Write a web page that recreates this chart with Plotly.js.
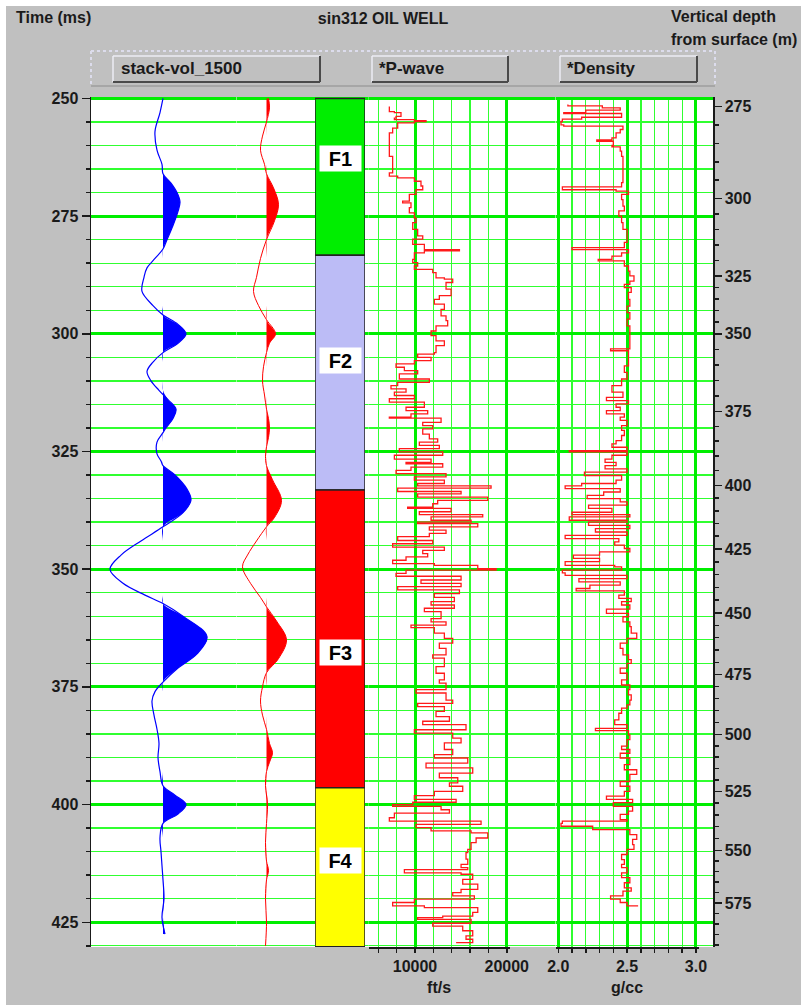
<!DOCTYPE html>
<html><head><meta charset="utf-8">
<script src="https://cdn.plot.ly/plotly-3.0.1.min.js"></script>
<style>html,body{margin:0;padding:0;background:#fff;}#chart{position:absolute;left:6px;top:6px;width:795px;height:999px;}</style>
</head><body><div id="chart"></div><script>
// ---------- DATA ----------
// Seismic trace 1 (blue, stack-vol_1500) : time (ms) and normalized amplitude
const blueTime = [250,253,257,261,264,266,268,270,272,274,277,280,282,284,286,288,291,294,296,298,300,302,304,306,308,310,312,314,316,318,320,321,323,325.5,327,328,330,333,335.3,338,341,344,347,350,353,355.5,357.3,360,364.3,368,371,374,376,378,381,384,387,390,393,396,398,400,402,404,407,410,413,416,420,424,427.5];
const blueAmp = [0,-0.06,-0.16,-0.12,-0.02,0,0.16,0.28,0.34,0.30,0.20,0.08,0,-0.16,-0.32,-0.38,-0.42,-0.20,0,0.30,0.46,0.30,0,-0.20,-0.32,-0.24,-0.08,0.10,0.26,0.20,0.06,0,-0.12,-0.12,-0.04,0,0.24,0.48,0.56,0.40,0,-0.44,-0.84,-1.06,-0.80,-0.36,0,0.40,0.88,0.68,0.30,0,-0.16,-0.22,-0.18,-0.12,-0.08,-0.10,-0.06,0,0.24,0.46,0.30,0,-0.06,-0.04,-0.02,0,0.02,-0.02,0.04];
// Seismic trace 2 (red)
const redTime = [250,252,255,258,261,264,266,269,272.5,276,280,284,288,291,294,297,300,302,304,307,310,313,316,318,320,322,324,326,328,331,335.4,339,341,344,347,349.5,353,356,358,361,365,369,372,375,378,381,384,387,389,391,393,396,400,404,408,412,414,416,420,425,430];
const redAmp = [0.04,0.06,0,-0.08,-0.12,-0.04,0,0.14,0.24,0.16,0,-0.12,-0.20,-0.26,-0.16,0,0.18,0.06,0,-0.06,-0.08,-0.04,0,0.04,0.06,0.04,0,-0.02,0,0.12,0.30,0.16,0,-0.20,-0.38,-0.48,-0.32,-0.12,0,0.20,0.40,0.24,0,-0.08,-0.12,-0.08,0,0.06,0.12,0.06,0,-0.02,0.02,0,-0.02,0,0.04,0,-0.02,0,-0.02];

// Formations
const formNames = ['F1','F2','F3','F4'];
const formTop = [250, 283.3, 333.2, 396.4];
const formBase = [283.3, 333.2, 396.4, 430.2];
const formColors = ['#00ee00','#bcbcf6','#ff0000','#ffff00'];
const formLabelTime = [262.8, 305.7, 367.7, 411.8];

// P-wave velocity log (ft/s) vs time (ms)
const pTime = [251.7,252.8,253.0,253.8,254.2,254.5,254.7,254.9,255.2,256.3,257.3,262.3,263.7,265.8,266.4,266.5,266.9,267.6,268.6,269.4,270.4,271.8,272.2,273.2,274.3,275.4,276.4,277.8,279.2,279.9,281.0,282.1,282.4,282.8,284.2,284.9,285.6,286.3,287.0,288.1,288.4,289.1,290.5,291.9,292.7,293.7,294.8,296.2,297.2,298.3,299.4,300.4,301.5,302.5,304.0,304.3,305.0,305.7,306.4,307.1,307.8,308.5,309.6,310.3,311.0,311.7,312.4,313.1,313.8,314.5,315.6,316.3,317.0,317.7,317.9,318.8,319.5,320.2,321.3,322.3,323.0,323.7,324.4,325.1,325.8,326.6,327.3,327.6,328.3,329.0,329.7,330.4,331.1,331.8,332.3,332.8,333.5,334.0,334.7,335.4,336.1,336.8,337.1,337.8,338.4,338.9,339.6,
340.0,340.3,341.0,341.7,342.4,343.1,343.9,344.6,345.3,346.0,346.7,347.4,348.1,348.8,349.2,349.9,350.2,350.9,351.5,352.3,353.0,353.7,354.4,355.2,356.0,356.9,357.6,358.3,359.0,360.5,361.2,361.9,362.4,363.6,364.7,365.7,366.8,368.2,368.9,370.7,372.1,373.5,374.2,375.6,376.3,377.8,378.5,379.2,380.2,381.3,382.3,383.0,384.1,384.8,385.9,386.9,388.3,389.4,390.1,391.2,392.2,393.3,394.3,395.4,396.1,397.2,398.1,398.9,399.5,400.0,400.4,401.1,401.8,402.8,403.5,404.2,404.9,405.6,406.0,407.1,408.1,409.5,410.2,411.6,412.7,413.4,413.8,414.5,414.8,415.9,416.9,418.0,418.7,419.4,420.1,420.8,421.5,421.9,422.9,423.7,424.0,424.4,425.2,425.8,426.8,427.9,428.6,429.3];
const pVel = [7200,7750,8470,7930,7750,9930,11200,9930,8110,7560,7200,7560,7560,7200,7200,8110,9930,10650,10840,10100,9380,8650,9560,9380,9930,10110,9750,10290,10840,9750,11020,14840,11020,9930,9750,10290,9930,11930,12290,13200,14110,13380,13930,12650,12110,13200,12840,13380,13560,12290,11750,12290,13200,12290,12110,10290,11750,9930,7930,8840,10290,8290,11560,8110,7380,9020,7750,9930,7200,11020,9020,11380,9560,7200,12840,10840,11930,10840,11560,12470,10470,12650,8290,13020,7750,11750,9020,13020,9560,7930,13380,9930,13200,10290,18290,8110,15020,10290,17930,12470,11930,9200,13930,10470,17380,11750,16110,
10290,16840,11560,13380,11560,8110,11930,7560,13200,10840,11380,9020,7560,12110,16840,18840,9020,7930,15020,10650,15020,8110,14840,12110,14290,11750,14290,11020,12840,11750,13380,9560,12110,13200,14110,12650,13380,11930,13200,12290,13200,12650,13380,10110,13380,14110,10290,13200,12290,13750,10840,15560,9930,14110,15020,13200,14110,12110,15750,11200,16290,12650,14660,13750,15200,12110,9930,14480,9750,7560,12840,13750,7750,7200,17200,10110,11750,16110,17930,16660,16110,15750,15560,15750,15020,15750,8840,15020,16290,15200,16840,15020,14110,16470,9930,7560,11020,16840,16290,13020,10290,16110,11930,15200,16290,15560,16290,14480];

// Density log (g/cc) vs time (ms)
const dTime = [251.3,251.6,252.0,252.5,253.0,253.2,253.8,254.0,254.4,254.9,255.6,255.9,256.6,257.3,258.4,258.8,259.1,260.0,260.3,260.9,261.2,262.3,263.7,267.2,267.9,268.8,269.4,269.7,270.4,271.5,272.9,273.9,275.0,276.4,277.8,279.2,280.6,281.7,282.1,282.8,283.5,284.2,284.5,285.6,286.7,287.7,288.8,289.5,290.2,291.2,292.7,294.1,295.5,296.9,298.3,299.7,301.5,303.2,303.6,305.4,306.8,308.2,309.6,311.0,312.4,313.5,314.2,314.9,315.6,316.3,317.0,317.7,318.4,319.5,320.5,321.6,322.7,323.4,324.1,324.8,325.1,325.8,326.6,327.3,328.0,328.7,329.4,330.1,331.1,331.8,332.3,332.9,333.6,334.3,335.0,335.7,336.4,337.1,337.9,338.4,338.9,339.6,
340.0,340.7,341.4,342.1,342.8,343.5,344.2,344.9,345.6,346.3,347.0,347.7,348.4,349.2,349.5,350.2,350.8,351.3,352.0,352.7,353.4,354.1,354.6,355.5,356.2,356.9,357.6,358.5,359.4,360.1,361.2,362.2,363.6,364.7,365.7,366.8,368.2,369.2,370.0,371.0,372.1,373.5,374.6,375.6,376.7,377.8,378.8,379.5,380.6,382.0,383.0,383.8,384.3,385.2,386.2,387.6,388.3,389.1,390.1,391.5,392.6,393.6,395.1,396.1,397.2,398.2,398.9,399.6,400.4,401.4,402.1,403.2,403.5,404.0,404.6,405.3,406.4,407.4,408.5,409.5,410.6,411.7,412.7,413.4,414.5,415.5,416.6,417.7,418.4,419.4,420.1,420.8,421.5];
const dRho = [2.07,2.32,2.45,2.20,2.04,2.46,2.46,2.17,2.03,2.02,2.04,2.47,2.45,2.42,2.39,2.28,2.40,2.39,2.45,2.45,2.46,2.47,2.47,2.47,2.46,2.03,2.42,2.51,2.46,2.47,2.48,2.44,2.46,2.47,2.50,2.50,2.48,2.10,2.51,2.46,2.39,2.29,2.48,2.51,2.52,2.55,2.52,2.48,2.53,2.51,2.52,2.50,2.52,2.50,2.52,2.52,2.52,2.38,2.51,2.51,2.48,2.50,2.46,2.39,2.47,2.35,2.51,2.42,2.45,2.35,2.48,2.45,2.50,2.46,2.48,2.46,2.42,2.39,2.50,2.08,2.50,2.39,2.34,2.42,2.34,2.50,2.19,2.46,2.42,2.17,2.05,2.45,2.33,2.21,2.45,2.50,2.22,2.39,2.10,2.52,2.08,2.50,
2.22,2.52,2.27,2.50,2.05,2.44,2.41,2.48,2.52,2.30,2.11,2.30,2.05,2.41,2.46,2.03,2.05,2.50,2.15,2.45,2.23,2.13,2.48,2.44,2.53,2.46,2.52,2.35,2.51,2.47,2.52,2.53,2.57,2.50,2.45,2.47,2.51,2.53,2.50,2.45,2.50,2.46,2.52,2.51,2.53,2.52,2.50,2.46,2.44,2.41,2.50,2.27,2.51,2.52,2.50,2.46,2.52,2.45,2.52,2.48,2.57,2.52,2.45,2.52,2.48,2.35,2.54,2.40,2.54,2.51,2.45,2.50,2.03,2.02,2.25,2.52,2.57,2.54,2.55,2.50,2.46,2.48,2.46,2.50,2.46,2.52,2.48,2.53,2.47,2.38,2.45,2.50,2.58];

// Depth axis (m) and the two-way time (ms) at which each depth tick falls
const depthLabels = [275,300,325,350,375,400,425,450,475,500,525,550,575];
const depthTimes = [251.7,271.3,287.7,300.0,316.5,332.2,345.7,359.3,372.4,385.1,397.2,409.7,420.9];

// Texts
const chartTitle = 'sin312 OIL WELL';
const timeLabel = 'Time (ms)';
const depthLabel1 = 'Vertical depth';
const depthLabel2 = 'from surface (m)';
const buttonLabels = ['stack-vol_1500','*P-wave','*Density'];
const velUnit = 'ft/s';
const rhoUnit = 'g/cc';

// ---------- LAYOUT HELPERS (pixel -> paper) ----------
const PL = 91, PR = 713, PT = 97, PB = 947;
const px = x => (x - PL) / (PR - PL);
const py = y => (PB - y) / (PB - PT);
const dom = (a, b) => [px(a), px(b)];

const GREEN = '#00ee00', GREEN_T = '#30ff30', INK = '#1a1a1a';
const FONT = 'Liberation Sans, Arial, sans-serif';

// Depth minor ticks (4 between majors)
const depthMinor = [];
for (let i = 0; i < depthTimes.length - 1; i++) {
  for (let k = 1; k < 5; k++) depthMinor.push(depthTimes[i] + k * (depthTimes[i+1] - depthTimes[i]) / 5);
}
{ const n = depthTimes.length, step = (depthTimes[n-1] - depthTimes[n-2]) / 5;
  for (let k = 1; k < 5; k++) { const v = depthTimes[n-1] + k*step; if (v < 430) depthMinor.push(v); } }

const traces = [
  {x: depthTimes.map(() => 0.5), y: depthTimes, xaxis: 'x', yaxis: 'y', mode: 'markers', marker: {opacity: 0}, hoverinfo: 'skip'},
  {x: depthTimes.map(() => 0.5), y: depthTimes, xaxis: 'x', yaxis: 'y2', mode: 'markers', marker: {opacity: 0}, hoverinfo: 'skip'},
  {x: blueAmp.map(a => Math.max(a, 0)), y: blueTime, xaxis: 'x2', yaxis: 'y', mode: 'lines', fill: 'tozerox', fillcolor: '#0000ff', line: {width: 0, shape: 'spline'}},
  {x: blueAmp, y: blueTime, xaxis: 'x2', yaxis: 'y', mode: 'lines', line: {color: '#0000ff', width: 1.2, shape: 'spline'}},
  {x: redAmp.map(a => Math.max(a, 0)), y: redTime, xaxis: 'x3', yaxis: 'y', mode: 'lines', fill: 'tozerox', fillcolor: '#ff0000', line: {width: 0, shape: 'spline'}},
  {x: redAmp, y: redTime, xaxis: 'x3', yaxis: 'y', mode: 'lines', line: {color: '#ff0000', width: 1, shape: 'spline'}},
  {type: 'bar', x: formNames.map(() => 'col'), y: formBase.map((b, i) => b - formTop[i]), base: formTop,
   xaxis: 'x4', yaxis: 'y', marker: {color: formColors, line: {color: '#222', width: 1.5}}, width: 1},
  {x: pVel, y: pTime, xaxis: 'x5', yaxis: 'y', mode: 'lines', line: {color: '#ff1a1a', width: 1.3, shape: 'vh'}},
  {x: dRho, y: dTime, xaxis: 'x6', yaxis: 'y', mode: 'lines', line: {color: '#ff1a1a', width: 1.3, shape: 'vh'}}
];

const tickFont = {family: FONT, size: 16, color: INK, weight: 'bold'};
const headFont = {family: FONT, size: 16, color: INK, weight: 'bold'};
const btnFont = {family: FONT, size: 17, color: INK, weight: 'bold'};
const yRange = [430.25, 249.7];

const hiddenX = (d, r) => ({domain: d, range: r, visible: false, showgrid: false, zeroline: false, anchor: 'y', fixedrange: true});

const logAxis = (d, r, t0, dt, mdt, fmt, title) => ({
  domain: d, range: r, anchor: 'y', side: 'bottom',
  showline: true, linecolor: INK, linewidth: 1.5,
  ticks: 'outside', ticklen: 4, tickwidth: 1.5, tickcolor: INK,
  tickmode: 'linear', tick0: t0, dtick: dt, tickformat: fmt, tickfont: tickFont,
  showgrid: true, gridcolor: GREEN, gridwidth: 3, zeroline: false,
  minor: {tick0: t0, dtick: mdt, ticks: 'outside', ticklen: 4, tickwidth: 1.5, tickcolor: INK,
          showgrid: true, gridcolor: GREEN_T, gridwidth: 1.3},
  title: {text: title, font: tickFont, standoff: 8}
});

// Header shapes: panel + three buttons
const shapes = [];
const line = (x0, y0, x1, y1, color, w, dash) => shapes.push({type: 'line', xref: 'paper', yref: 'paper',
  x0: px(x0), y0: py(y0), x1: px(x1), y1: py(y1), line: {color, width: w, dash: dash || 'solid'}});
// panel
line(91, 51, 715, 51, '#dcdcec', 2, 'dot'); line(91, 51, 91, 87, '#dcdcec', 2, 'dot');
line(715, 51, 715, 87, '#dcdcec', 2, 'dot'); line(91, 86, 715, 86, '#8c8c8c', 1);
const buttons = [[113, 56, 320, 82], [372, 56, 508, 82], [560, 56, 697, 82]];
buttons.forEach(b => {
  line(b[0], b[3], b[0], b[1], '#ececf4', 1.5); line(b[0], b[1], b[2], b[1], '#ececf4', 1.5);
  line(b[0], b[3], b[2], b[3], '#4a4a4a', 2); line(b[2], b[3], b[2], b[1], '#4a4a4a', 2);
});

const annotations = [
  {text: timeLabel, xref: 'paper', yref: 'paper', x: px(14), y: py(18), xanchor: 'left', yanchor: 'middle', showarrow: false, font: headFont},
  {text: depthLabel1, xref: 'paper', yref: 'paper', x: px(669), y: py(17), xanchor: 'left', yanchor: 'middle', showarrow: false, font: headFont},
  {text: depthLabel2, xref: 'paper', yref: 'paper', x: px(669), y: py(40), xanchor: 'left', yanchor: 'middle', showarrow: false, font: headFont}
];
const btnTextX = [119, 377, 565];
buttonLabels.forEach((t, i) => annotations.push({text: t, xref: 'paper', yref: 'paper', x: px(btnTextX[i]), y: py(69),
  xanchor: 'left', yanchor: 'middle', showarrow: false, font: btnFont}));
formNames.forEach((n, i) => annotations.push({text: n, xref: 'x4', yref: 'y', x: 0, y: formLabelTime[i],
  showarrow: false, bgcolor: '#ffffff', borderpad: 0, width: 41, height: 25,
  font: {family: FONT, size: 20, color: '#000', weight: 'bold'}}));

const layout = {
  width: 795, height: 999,
  margin: {l: 85, r: 88, t: 91, b: 58},
  paper_bgcolor: '#c0c0c0', plot_bgcolor: '#ffffff',
  showlegend: false, hovermode: false, bargap: 0,
  font: {family: FONT, size: 16, color: INK, weight: 'bold'},
  title: {text: chartTitle, xref: 'container', yref: 'container', x: (383 - 6) / 795, y: 1 - (18 - 6) / 999,
          xanchor: 'center', yanchor: 'middle', font: headFont},
  xaxis: {domain: [0, 1], range: [0, 1], anchor: 'y', showgrid: false, zeroline: false, showline: false,
          showticklabels: false, ticks: '', fixedrange: true},
  xaxis2: hiddenX(dom(91, 235), [-1.44, 1.44]),
  xaxis3: hiddenX(dom(236.5, 296.5), [-0.6, 0.6]),
  xaxis4: Object.assign(hiddenX(dom(315, 365), [-0.5, 0.5]), {type: 'category'}),
  xaxis5: logAxis(dom(368.7, 509.5), [4950, 20300], 0, 10000, 2000, 'd', velUnit),
  xaxis6: logAxis(dom(555.5, 698.7), [1.98, 3.02], 2, 0.5, 0.1, '.1f', rhoUnit),
  yaxis: {
    domain: [0, 1], range: yRange, anchor: 'x', side: 'left',
    tickmode: 'linear', tick0: 250, dtick: 25, ticks: 'outside', ticklen: 8, tickwidth: 1.5, tickcolor: INK,
    showline: true, linecolor: INK, linewidth: 1.5, tickfont: tickFont,
    showgrid: true, gridcolor: GREEN, gridwidth: 3, zeroline: false,
    minor: {tick0: 250, dtick: 5, ticks: 'outside', ticklen: 4, tickwidth: 1.5, tickcolor: INK,
            showgrid: true, gridcolor: GREEN_T, gridwidth: 1.3}
  },
  yaxis2: {
    overlaying: 'y', side: 'right', anchor: 'free', position: 1, range: yRange,
    tickmode: 'array', tickvals: depthTimes, ticktext: depthLabels.map(String),
    ticks: 'outside', ticklen: 7, tickwidth: 1.5, tickcolor: INK,
    showline: true, linecolor: INK, linewidth: 1.5, showgrid: false, zeroline: false, tickfont: tickFont,
    minor: {tickmode: 'array', tickvals: depthMinor, ticks: 'outside', ticklen: 4, tickwidth: 1.5, tickcolor: INK, showgrid: false}
  },
  shapes, annotations
};

Plotly.newPlot('chart', traces, layout, {staticPlot: true, displayModeBar: false});
</script></body></html>
